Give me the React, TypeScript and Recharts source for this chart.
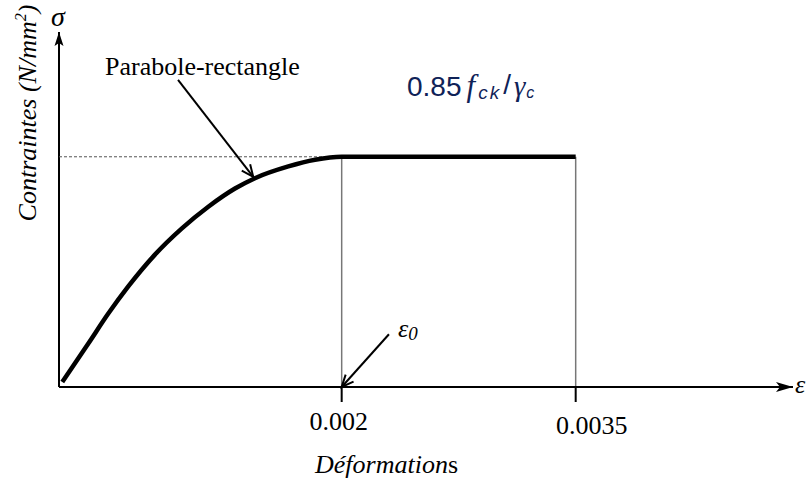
import { LineChart, Line, XAxis, YAxis, ReferenceLine, ReferenceDot } from "recharts"

// strain values (axis calibrated from the 0.002 / 0.0035 ticks)
const strain = [
  0.000209, 0.000376, 0.000504, 0.000632, 0.000803, 0.000974, 0.001145, 0.001316, 0.001444, 0.001658, 0.001829,
  0.002, 0.0035,
]
// stress as a fraction of 0.85 fck / γc
const stress = [0.022, 0.189, 0.319, 0.437, 0.575, 0.688, 0.783, 0.862, 0.907, 0.958, 0.987, 1, 1]

const xTicks = [0.002, 0.0035]
const xTickLabels = ["0.002", "0.0035"]

const EPS_MIN = 0.000188
const EPS_MAX = 0.004893
const SIG_MAX = 1.542
const EPS_0 = 0.002
const EPS_CU = 0.0035
const PLATEAU = 1

// annotation arrows: [from, to] in data units
const parabolaArrow = [
  { x: 0.000951, y: 1.334 },
  { x: 0.001433, y: 0.913 },
]
const eps0Arrow = [
  { x: 0.002303, y: 0.229 },
  { x: 0.002, y: 0 },
]

const data = strain.map((e, i) => ({ e, s: stress[i] }))

const SERIF = "'Liberation Serif', 'Times New Roman', serif"
const SANS = "'Liberation Sans', Arial, sans-serif"
const NAVY = "#0f2257"
const W = 808
const H = 479

// per-tick label nudges, the sketch doesn't centre them
const tickNudge: Record<string, { dx: number; dy: number }> = {
  "0.002": { dx: -3, dy: 26 },
  "0.0035": { dx: 16, dy: 30 },
}

function Tick(props: any) {
  const { x, y, payload } = props
  const label = xTickLabels[xTicks.indexOf(payload.value)]
  const n = tickNudge[label] ?? { dx: 0, dy: 26 }
  return (
    <text x={x + n.dx} y={y + n.dy} textAnchor="middle" fontFamily={SERIF} fontSize={26} fill="#000">
      {label}
    </text>
  )
}

function ArrowLine(props: any) {
  const { x1, y1, x2, y2 } = props
  const a = Math.atan2(y2 - y1, x2 - x1)
  const len = 13
  const spread = 0.42
  const p1 = [x2 - len * Math.cos(a - spread), y2 - len * Math.sin(a - spread)]
  const p2 = [x2 - len * Math.cos(a + spread), y2 - len * Math.sin(a + spread)]
  return (
    <g>
      <line x1={x1} y1={y1} x2={x2} y2={y2} stroke="#000" strokeWidth={2} />
      <polyline
        points={`${p1[0]},${p1[1]} ${x2},${y2} ${p2[0]},${p2[1]}`}
        fill="none"
        stroke="#000"
        strokeWidth={2}
      />
    </g>
  )
}

function RightHead(props: any) {
  const { cx, cy } = props
  return <polygon points={`${cx},${cy} ${cx - 17},${cy - 5} ${cx - 13},${cy} ${cx - 17},${cy + 5}`} fill="#000" />
}

function UpHead(props: any) {
  const { cx, cy } = props
  return <polygon points={`${cx},${cy} ${cx - 4.5},${cy + 14} ${cx},${cy + 11} ${cx + 4.5},${cy + 14}`} fill="#000" />
}

export default function App() {
  return (
    <div style={{ position: "absolute", left: 0, top: 0, width: W, height: H, background: "#fff" }}>
      <LineChart width={W} height={H} data={data} margin={{ top: 32, right: 15, left: 59, bottom: 32 }}>
        <XAxis
          dataKey="e"
          type="number"
          domain={[EPS_MIN, EPS_MAX]}
          allowDataOverflow
          ticks={xTicks}
          tick={<Tick />}
          tickSize={15}
          height={60}
          axisLine={{ stroke: "#000", strokeWidth: 2 }}
          tickLine={{ stroke: "#000", strokeWidth: 2 }}
        />
        <YAxis hide type="number" domain={[0, SIG_MAX]} allowDataOverflow />
        <ReferenceLine x={EPS_MIN} stroke="#000" strokeWidth={2} ifOverflow="visible" />
        <ReferenceLine
          segment={[{ x: EPS_MIN, y: PLATEAU }, { x: EPS_0, y: PLATEAU }]}
          stroke="#555"
          strokeWidth={1}
          strokeDasharray="3 2"
        />
        <ReferenceLine segment={[{ x: EPS_0, y: 0 }, { x: EPS_0, y: PLATEAU }]} stroke="#777" strokeWidth={1.5} />
        <ReferenceLine segment={[{ x: EPS_CU, y: 0 }, { x: EPS_CU, y: PLATEAU }]} stroke="#777" strokeWidth={1.5} />
        <Line
          dataKey="s"
          type="monotone"
          stroke="#000"
          strokeWidth={4.5}
          dot={false}
          activeDot={false}
          isAnimationActive={false}
        />
        <ReferenceLine segment={parabolaArrow} shape={ArrowLine} ifOverflow="visible" />
        <ReferenceLine segment={eps0Arrow} shape={ArrowLine} ifOverflow="visible" />
        <ReferenceDot x={EPS_MAX} y={0} shape={RightHead} ifOverflow="visible" />
        <ReferenceDot x={EPS_MIN} y={SIG_MAX} shape={UpHead} ifOverflow="visible" />
      </LineChart>

      <svg width={W} height={H} style={{ position: "absolute", left: 0, top: 0, pointerEvents: "none" }}>
        <text x={58} y={26} textAnchor="middle" fontFamily={SERIF} fontStyle="italic" fontSize={28}>
          σ
        </text>
        <text
          transform="translate(36,113) rotate(-90)"
          textAnchor="middle"
          fontFamily={SERIF}
          fontStyle="italic"
          fontSize={26}
        >
          Contraintes (N/mm<tspan fontSize={16} dy={-10}>2</tspan>
          <tspan dy={10}>)</tspan>
        </text>
        <text x={105} y={75} fontFamily={SERIF} fontSize={26}>
          Parabole-rectangle
        </text>

        <text x={407} y={96} fontFamily={SANS} fontSize={28} fill={NAVY}>
          0.85
          <tspan dx={5} fontFamily={SERIF} fontStyle="italic" fontSize={31}>f</tspan>
          <tspan dx={3} fontStyle="italic" fontSize={19} dy={3} letterSpacing={2}>ck</tspan>
          <tspan dx={2} fontSize={28} dy={-5}>/</tspan>
          <tspan dx={3} fontFamily={SERIF} fontStyle="italic" fontSize={29} dy={2}>γ</tspan>
          <tspan dx={1} fontStyle="italic" fontSize={16} dy={2}>c</tspan>
        </text>

        <text x={398} y={337} fontFamily={SERIF} fontStyle="italic" fontSize={26}>
          ε<tspan fontSize={19} dy={3}>0</tspan>
        </text>
        <text x={795} y={393} fontFamily={SERIF} fontStyle="italic" fontSize={26}>
          ε
        </text>
        <text x={315} y={473} fontFamily={SERIF} fontSize={26}>
          <tspan fontStyle="italic">Déformation</tspan>s
        </text>
      </svg>
    </div>
  )
}
